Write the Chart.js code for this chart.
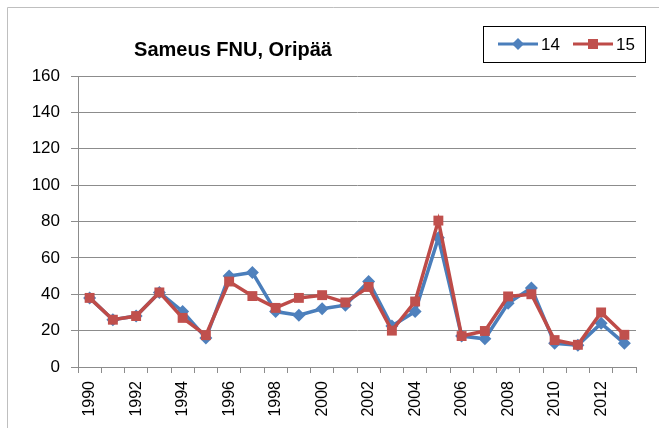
<!DOCTYPE html>
<html>
<head>
<meta charset="utf-8">
<script src="https://cdn.jsdelivr.net/npm/chart.js@4/dist/chart.umd.min.js"></script>
<style>
  html, body { margin: 0; padding: 0; background: #fff; }
  #wrap { width: 659px; height: 428px; }
</style>
</head>
<body>
<div id="wrap"><canvas id="myChart" width="659" height="428"></canvas></div>
<script>
const years = ['1990', '1991', '1992', '1993', '1994', '1995', '1996', '1997', '1998', '1999', '2000', '2001',
    '2002', '2003', '2004', '2005', '2006', '2007', '2008', '2009', '2010', '2011', '2012', '2013']
const series14 = [38, 26, 28, 41, 30.5, 16, 50, 52, 30.5, 28.5, 32, 34, 47, 22.5, 30.5, 71, 17, 15.5, 35, 43.5, 13, 12, 24, 13]
const series15 = [38, 26, 28, 41, 27, 17.5, 47, 39, 32.5, 38, 39.5, 35.5, 44, 20, 36, 80.5, 17, 19.8, 38.8, 40, 14.8, 12.2, 30, 17.7]
const yTicks = [0, 20, 40, 60, 80, 100, 120, 140, 160]
const chartTitle = 'Sameus FNU, Oripää'
const seriesNames = ['14', '15']

const blue = '#4A7EBB'
const blueFill = '#4F81BD'
const red = '#BE4B48'
const redFill = '#C0504D'
const gridColor = '#8C8C8C'
const tickFamily = '"Liberation Sans", Arial, sans-serif'
const ctx = document.getElementById('myChart')

Chart.defaults.font.family = tickFamily
Chart.defaults.font.size = 16
Chart.defaults.color = '#000'

// outer frame, title and legend box are drawn by hand, like the spreadsheet does
const decorations = {
    id: 'decorations',
    beforeDraw(chart) {
        const c = chart.ctx
        c.save()
        c.fillStyle = '#fff'
        c.fillRect(0, 0, chart.width, chart.height)
        c.strokeStyle = '#BFBFBF'
        c.lineWidth = 1
        c.beginPath()
        c.moveTo(7.5, chart.height)
        c.lineTo(7.5, 7.5)
        c.lineTo(chart.width, 7.5)
        c.stroke()
        c.restore()
    },
    afterDraw(chart) {
        const c = chart.ctx
        c.save()
        c.fillStyle = '#000'
        c.font = 'bold 20px ' + tickFamily
        c.textAlign = 'center'
        c.textBaseline = 'alphabetic'
        c.fillText(chartTitle, 233, 56)

        c.strokeStyle = '#000'
        c.lineWidth = 1
        c.strokeRect(483.5, 26.5, 162, 36)

        const drawEntry = (x0, color, fill, marker, label) => {
            c.strokeStyle = color
            c.lineWidth = 3
            c.beginPath()
            c.moveTo(x0, 44)
            c.lineTo(x0 + 40, 44)
            c.stroke()
            c.fillStyle = fill
            c.beginPath()
            const mx = x0 + 20
            if (marker === 'diamond') {
                c.moveTo(mx, 38)
                c.lineTo(mx + 6, 44)
                c.lineTo(mx, 50)
                c.lineTo(mx - 6, 44)
                c.closePath()
            } else {
                c.rect(mx - 5, 39, 10, 10)
            }
            c.fill()
            c.fillStyle = '#000'
            c.font = '17px ' + tickFamily
            c.textAlign = 'left'
            c.textBaseline = 'middle'
            c.fillText(label, x0 + 43, 45)
        }
        drawEntry(498, blue, blueFill, 'diamond', seriesNames[0])
        drawEntry(573, red, redFill, 'square', seriesNames[1])
        c.restore()
    }
}

const config = {
    type: 'line',
    data: {
        labels: years,
        datasets: [
            {
                label: seriesNames[0],
                data: series14,
                order: 2,
                borderColor: blue,
                backgroundColor: blueFill,
                borderWidth: 3.5,
                pointStyle: 'rectRot',
                pointRadius: 6.5,
                pointBorderWidth: 0,
            },
            {
                label: seriesNames[1],
                data: series15,
                order: 1,
                borderColor: red,
                backgroundColor: redFill,
                borderWidth: 3.5,
                pointStyle: 'rect',
                pointRadius: 7,
                pointBorderWidth: 0,
            },
        ],
    },
    options: {
        responsive: false,
        animation: false,
        devicePixelRatio: 1,
        layout: { padding: { top: 76, right: 23, left: 0, bottom: 0 } },
        plugins: { legend: { display: false }, tooltip: { enabled: false } },
        scales: {
            x: {
                offset: true,
                afterFit: (scale) => { scale.height = 61 },
                grid: { offset: true, drawOnChartArea: false, tickLength: 6, color: gridColor },
                border: { color: gridColor },
                ticks: {
                    autoSkip: false,
                    minRotation: 90,
                    maxRotation: 90,
                    padding: 8,
                    font: { family: tickFamily, size: 16 },
                    callback: (v, i) => (i % 2 === 0 ? years[i] : ''),
                },
            },
            y: {
                min: yTicks[0],
                max: yTicks[yTicks.length - 1],
                afterFit: (scale) => { scale.width = 78 },
                afterBuildTicks: (scale) => { scale.ticks = yTicks.map((v) => ({ value: v })) },
                grid: { color: gridColor, tickLength: 7 },
                border: { color: gridColor },
                ticks: { padding: 11, font: { family: tickFamily, size: 17 } },
            },
        },
    },
    plugins: [decorations],
}

const myChart = new Chart(ctx, config)
</script>
</body>
</html>
